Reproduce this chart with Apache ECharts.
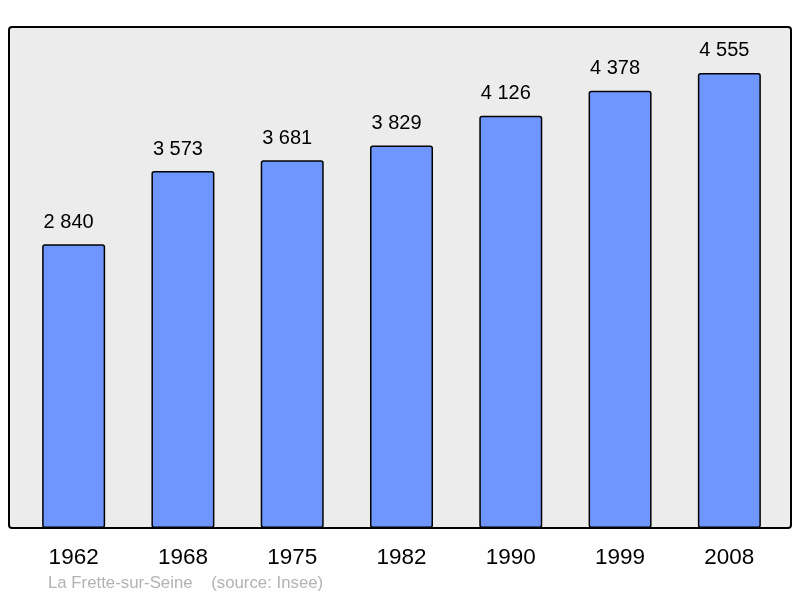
<!DOCTYPE html>
<html>
<head>
<meta charset="utf-8">
<script src="https://cdn.jsdelivr.net/npm/echarts@6/dist/echarts.min.js"></script>
<style>
  html, body { margin: 0; padding: 0; background: #fff; }
  #main { width: 800px; height: 598px; }
</style>
</head>
<body>
<div id="main"></div>
<script>
// population of La Frette-sur-Seine
var years = ['1962', '1968', '1975', '1982', '1990', '1999', '2008'];
var population = [2840, 3573, 3681, 3829, 4126, 4378, 4555];
var sourceText = 'La Frette-sur-Seine    (source: Insee)';

function fmt(v) {
    // french style thousands separator
    return String(v).replace(/\B(?=(\d{3})+(?!\d))/g, ' ');
}

var myChart = echarts.init(document.getElementById('main'));

var option = {
    animation: false,
    grid: {
        left: 19,
        right: 16,
        top: 27,
        bottom: 70
    },
    xAxis: {
        type: 'category',
        data: years,
        axisLine: { show: false },
        axisTick: { show: false },
        axisLabel: {
            margin: 18,
            fontSize: 22.5,
            color: '#000',
            fontFamily: 'Liberation Sans'
        }
    },
    yAxis: {
        type: 'value',
        min: 0,
        max: 5015,
        show: false,
        splitLine: { show: false }
    },
    graphic: [
        {
            type: 'rect',
            z: -10,
            shape: { x: 9, y: 27, width: 782, height: 501, r: 3 },
            style: { fill: '#ececec', stroke: '#000', lineWidth: 2 }
        },
        {
            type: 'text',
            left: 48,
            top: 575,
            style: {
                text: sourceText,
                fontSize: 16.8,
                fill: '#b3b3b3',
                fontFamily: 'Liberation Sans'
            }
        }
    ],
    series: [
        {
            type: 'bar',
            data: population,
            barWidth: 63,
            itemStyle: {
                color: '#6f96ff',
                borderColor: '#000',
                borderWidth: 1.5,
                borderRadius: 2
            },
            label: {
                show: true,
                position: 'top',
                distance: 12,
                offset: [-5, 0],
                fontSize: 20,
                color: '#000',
                fontFamily: 'Liberation Sans',
                formatter: function (p) { return fmt(p.value); }
            }
        }
    ]
};

myChart.setOption(option);
</script>
</body>
</html>
